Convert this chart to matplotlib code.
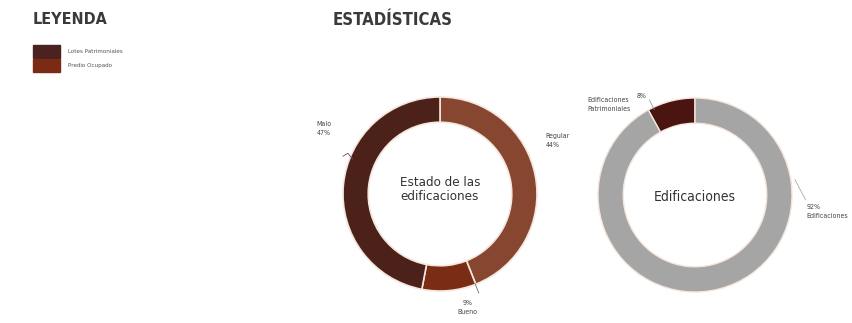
import matplotlib.pyplot as plt

# Estado de las edificaciones
estado_labels = ['Regular', 'Bueno', 'Malo']
estado_values = [44, 9, 47]
estado_colors = ['#86462f', '#7a2c14', '#4b2119']

# Edificaciones patrimoniales vs resto
edif_labels = ['Edificaciones\nPatrimoniales', 'Edificaciones']
edif_values = [8, 92]
edif_colors = ['#4a1510', '#a5a5a5']

legend_labels = ['Lotes Patrimoniales', 'Predio Ocupado']
legend_colors = ['#4a2220', '#7b2b15']

W, H = 853, 323
plt.rcParams['font.family'] = ['DejaVu Sans']
plt.rcParams['font.stretch'] = 'condensed'
fig = plt.figure(figsize=(W / 100, H / 100), dpi=100)
fig.patch.set_facecolor('white')


def px_axes(cx, cy, r):
    # axes centred on a pixel position, measured from the top-left
    return fig.add_axes([(cx - r) / W, (H - cy - r) / H, 2 * r / W, 2 * r / H])


# headings
fig.text(33 / W, 1 - 20 / H, 'LEYENDA', fontsize=11.5, fontweight='bold',
         color='#3a3a3a', va='center', ha='left')
fig.text(333 / W, 1 - 20 / H, 'ESTADÍSTICAS', fontsize=12, fontweight='bold',
         color='#3a3a3a', va='center', ha='left')

# legend swatches
for i, (lab, col) in enumerate(zip(legend_labels, legend_colors)):
    y0 = 45 + i * 14
    fig.patches.append(plt.Rectangle((33 / W, 1 - (y0 + 13) / H), 27 / W, 13 / H,
                                     transform=fig.transFigure, color=col))
    fig.text(68 / W, 1 - (y0 + 6.5) / H, lab, fontsize=4.5, color='#555555',
             va='center', ha='left')

small = dict(fontsize=5, color='#444444', clip_on=False, linespacing=1.6)

# donut 1
ax1 = px_axes(440, 194, 97)
ax1.pie(estado_values, colors=estado_colors, startangle=90, counterclock=False,
        radius=1, wedgeprops=dict(width=0.26, edgecolor='#f4e6dc', linewidth=1.2))
ax1.set_xlim(-1, 1)
ax1.set_ylim(-1, 1)
ax1.set_aspect('auto')
ax1.axis('off')
ax1.text(0, 0.05, 'Estado de las\nedificaciones', ha='center', va='center',
         fontsize=9.5, color='#333333', linespacing=1.1)

ax1.text(-1.27, 0.68, f'{estado_labels[2]}\n{estado_values[2]}%',
         ha='left', va='center', **small)
ax1.text(1.09, 0.55, f'{estado_labels[0]}\n{estado_values[0]}%',
         ha='left', va='center', **small)
ax1.text(0.28, -1.17, f'{estado_values[1]}%\n{estado_labels[1]}',
         ha='center', va='center', **small)
ax1.plot([-1.0, -0.95, -0.9], [0.39, 0.42, 0.36], color='#555555', lw=0.6, clip_on=False)
ax1.plot([0.36, 0.4], [-0.92, -1.02], color='#555555', lw=0.5, clip_on=False)

# donut 2
ax2 = px_axes(695, 195, 97)
ax2.pie(edif_values, colors=edif_colors, startangle=90, counterclock=True,
        radius=1, wedgeprops=dict(width=0.26, edgecolor='#f4e6dc', linewidth=1.0))
ax2.set_xlim(-1, 1)
ax2.set_ylim(-1, 1)
ax2.set_aspect('auto')
ax2.axis('off')
ax2.text(0, -0.02, 'Edificaciones', ha='center', va='center', fontsize=10,
         color='#333333')
ax2.text(-1.11, 0.93, edif_labels[0], ha='left', va='center', **small)
ax2.text(-0.6, 1.02, f'{edif_values[0]}%', ha='left', va='center', **small)
ax2.plot([-0.47, -0.42], [0.98, 0.88], color='#888888', lw=0.5, clip_on=False)
ax2.text(1.15, -0.17, f'{edif_values[1]}%\n{edif_labels[1]}',
         ha='left', va='center', **small)
ax2.plot([1.03, 1.14], [0.16, -0.05], color='#999999', lw=0.5, clip_on=False)

fig.savefig('out.png', dpi=100, facecolor='white')
